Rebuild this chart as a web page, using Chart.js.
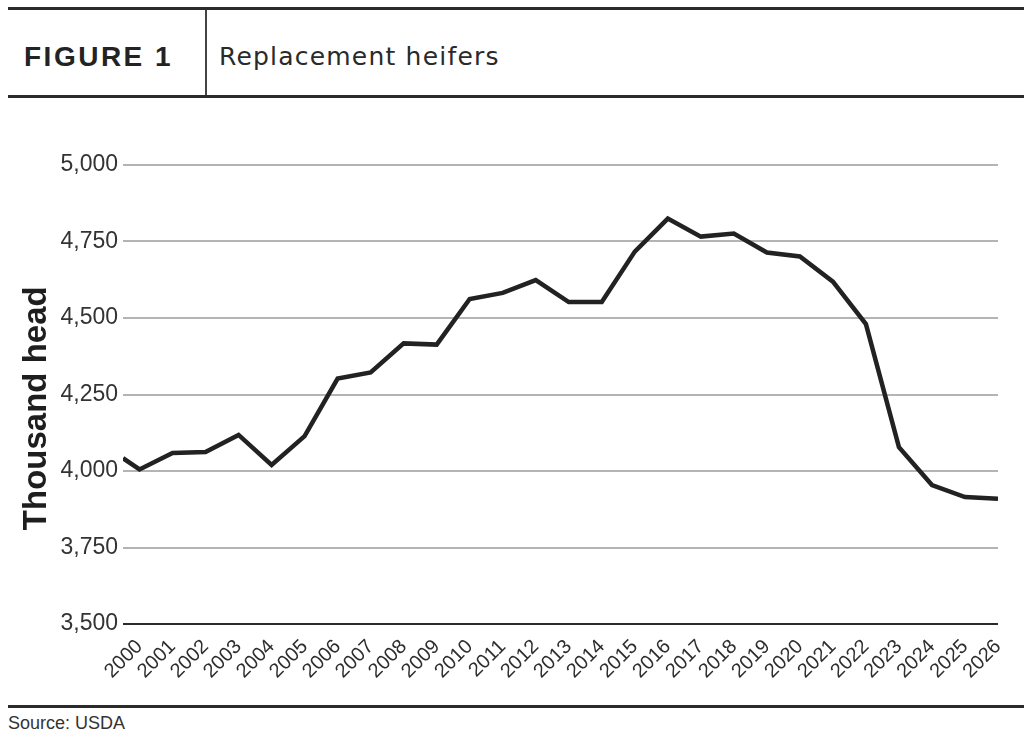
<!DOCTYPE html>
<html>
<head>
<meta charset="utf-8">
<script src="https://cdn.jsdelivr.net/npm/chart.js@4/dist/chart.umd.min.js"></script>
<style>
    body { margin: 0; background: #fff; width: 1024px; height: 737px; position: relative; overflow: hidden; }
    .rule { position: absolute; left: 8px; right: 0; height: 3px; background: #2b2b2b; }
    #fig { position: absolute; left: 24px; top: 41px; font: bold 28px "Liberation Sans", Arial, sans-serif; color: #232323; letter-spacing: 2.5px; }
    #divider { position: absolute; left: 205px; top: 10px; width: 2px; height: 86px; background: #444; }
    #title { position: absolute; left: 219px; top: 42px; font: 25px "DejaVu Sans", sans-serif; color: #2a2a2a; letter-spacing: 1.2px; }
    #source { position: absolute; left: 8px; top: 713px; font: 18px "Liberation Sans", Arial, sans-serif; color: #333; }
    #chartBox { position: absolute; left: 0; top: 140px; width: 1024px; height: 560px; }
</style>
</head>
<body>
<div class="rule" style="top:7px"></div>
<div id="fig">FIGURE 1</div>
<div id="divider"></div>
<div id="title">Replacement heifers</div>
<div class="rule" style="top:95px"></div>
<div id="chartBox"><canvas id="heiferChart"></canvas></div>
<div class="rule" style="top:705px"></div>
<div id="source">Source: USDA</div>

<script>
// Tick labels on the x axis
const years = [2000, 2001, 2002, 2003, 2004, 2005, 2006, 2007, 2008, 2009, 2010, 2011, 2012, 2013,
    2014, 2015, 2016, 2017, 2018, 2019, 2020, 2021, 2022, 2023, 2024, 2025, 2026];

// Replacement heifers, thousand head
const heifers = [4005, 4059, 4062, 4118, 4020, 4114, 4302, 4322, 4417, 4413, 4562, 4582, 4624, 4552,
    4552, 4717, 4825, 4766, 4776, 4714, 4701, 4619, 4480, 4078, 3954, 3915, 3909];

// The line enters the plot half a year before 2000
const leadIn = { x: 1999.5, y: 4042 };

const yTicks = [3500, 3750, 4000, 4250, 4500, 4750, 5000];

document.addEventListener('DOMContentLoaded', function () {
    const ctx = document.getElementById('heiferChart').getContext('2d');
    const points = [leadIn].concat(years.map((yr, i) => ({ x: yr, y: heifers[i] })));

    new Chart(ctx, {
        type: 'line',
        data: {
            datasets: [{
                data: points,
                borderColor: '#222',
                borderWidth: 4.5,
                borderJoinStyle: 'miter',
                pointRadius: 0,
                tension: 0,
                fill: false,
            }],
        },
        options: {
            animation: false,
            responsive: true,
            maintainAspectRatio: false,
            layout: { padding: { top: 25, right: 26, left: 0, bottom: 0 } },
            plugins: { legend: { display: false }, tooltip: { enabled: false } },
            scales: {
                x: {
                    type: 'linear',
                    min: 1999.5,
                    max: 2026,
                    grid: { display: false },
                    border: { display: false },
                    afterBuildTicks: scale => { scale.ticks = years.map(v => ({ value: v })); },
                    afterFit: scale => { scale.height = 76; },
                    ticks: {
                        autoSkip: false,
                        minRotation: 45,
                        maxRotation: 45,
                        padding: 3,
                        color: '#2e2e2e',
                        font: { family: '"Liberation Sans", Arial, sans-serif', size: 20 },
                        callback: value => String(value),
                    },
                },
                y: {
                    min: 3500,
                    max: 5000,
                    afterBuildTicks: scale => { scale.ticks = yTicks.map(v => ({ value: v })); },
                    afterFit: scale => { scale.width = 123; },
                    border: { display: false },
                    grid: {
                        drawTicks: false,
                        lineWidth: 2,
                        color: c => c.tick && c.tick.value === 3500 ? '#2b2b2b' : '#b4b4b4',
                    },
                    ticks: {
                        padding: 5,
                        color: '#333',
                        font: { family: '"Liberation Sans", Arial, sans-serif', size: 23 },
                        callback: value => value.toLocaleString('en-US'),
                    },
                    title: {
                        display: true,
                        // trailing spaces push the label a little lower, as in the original
                        text: 'Thousand head   ',
                        color: '#1e1e1e',
                        padding: { top: 17, bottom: 0 },
                        font: { family: '"Liberation Sans", Arial, sans-serif', size: 33, weight: 'bold' },
                    },
                },
            },
        },
    });
});
</script>
</body>
</html>
